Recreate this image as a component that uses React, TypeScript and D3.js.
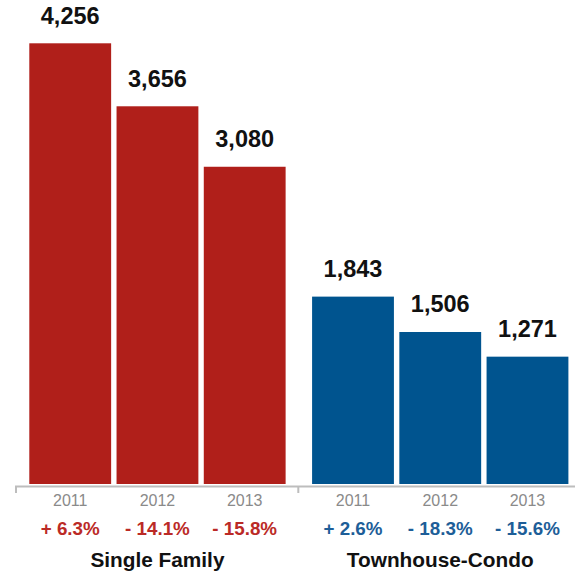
import React from "react";
import * as d3 from "d3";

const groups = ["Single Family", "Townhouse-Condo"];
const years = ["2011", "2012", "2013"];
const singleFamily = [4256, 3656, 3080];
const townhouseCondo = [1843, 1506, 1271];
const singleFamilyChange = ["+ 6.3%", "- 14.1%", "- 15.8%"];
const townhouseCondoChange = ["+ 2.6%", "- 18.3%", "- 15.6%"];

const W = 575;
const H = 573;
const FONT = "'Liberation Sans', Arial, Helvetica, sans-serif";

const barColors = ["#b01f1a", "#00548f"];
const changeColors = ["#bb2a26", "#1d5e98"];

export default function App() {
  const series = [singleFamily, townhouseCondo];
  const changes = [singleFamilyChange, townhouseCondoChange];
  const maxV = d3.max(singleFamily.concat(townhouseCondo)) as number;

  const gx = d3.scaleBand<string>().domain(groups).range([29.3, 568.4]).paddingInner(0.0936);
  const ix = d3.scaleBand<string>().domain(years).range([0, gx.bandwidth()]).paddingInner(0.062);
  const y = d3.scaleLinear().domain([0, maxV]).range([490.1, 43.3]);
  const barBottom = 484;
  const axisY = 486.5;

  return (
    <svg width={W} height={H} style={{ position: "absolute", left: 0, top: 0, display: "block" }} fontFamily={FONT}>
      <rect width={W} height={H} fill="#fff" />
      {groups.map((g, gi) => {
        const gx0 = gx(g) as number;
        return (
          <g key={g}>
            {years.map((yr, i) => {
              const v = series[gi][i];
              const x0 = gx0 + (ix(yr) as number);
              const bw = ix.bandwidth();
              const cx = x0 + bw / 2;
              return (
                <g key={yr}>
                  <rect x={x0} y={y(v)} width={bw} height={barBottom - y(v)} fill={barColors[gi]} />
                  <text x={cx} y={y(v) - 19.5} textAnchor="middle" fontWeight="bold" fontSize={23.5} fill="#111">
                    {d3.format(",")(v)}
                  </text>
                  <text x={cx} y={505.5} textAnchor="middle" fontSize={16} fill="#8a8a8a">
                    {yr}
                  </text>
                  <text x={cx} y={535} textAnchor="middle" fontWeight="bold" fontSize={18.8} fill={changeColors[gi]}>
                    {changes[gi][i]}
                  </text>
                </g>
              );
            })}
            <text x={gx0 + gx.bandwidth() / 2} y={566.5} textAnchor="middle" fontWeight="bold" fontSize={20.8} fill="#111">
              {g}
            </text>
          </g>
        );
      })}
      <line x1={15} x2={W} y1={axisY} y2={axisY} stroke="#bdbdbd" strokeWidth={2} />
      <line x1={16} x2={16} y1={axisY} y2={493} stroke="#bdbdbd" strokeWidth={2} />
      <line x1={298.3} x2={298.3} y1={axisY} y2={493} stroke="#bdbdbd" strokeWidth={2} />
    </svg>
  );
}
